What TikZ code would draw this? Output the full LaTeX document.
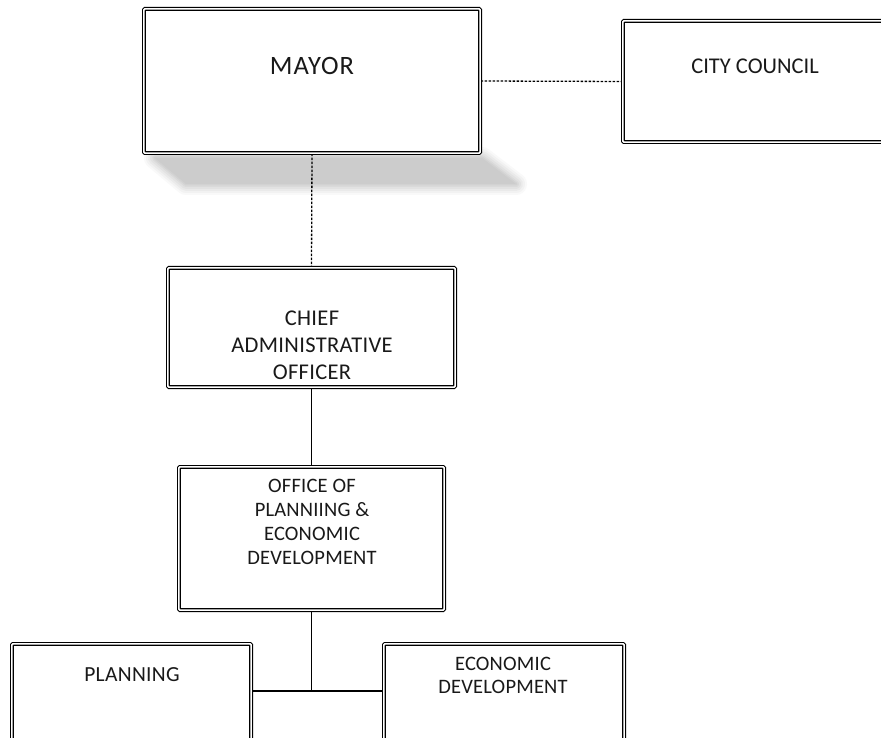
\documentclass[tikz,border=0pt]{standalone}
\usepackage{fontspec}
\setmainfont{Carlito}
\usetikzlibrary{backgrounds}
\begin{document}
\begin{tikzpicture}[x=1pt,y=-1pt,
  box/.style={draw=black, double=white, double distance=1.6pt, line width=1.1pt, fill=white, inner sep=0pt, rectangle, rounded corners=1pt},
  lbl/.style={inner sep=0pt, align=center, text=black!90},
  dotline/.style={line width=1.3pt, dash pattern=on 2.4pt off 1.6pt},
  solidline/.style={line width=1.3pt}]
\useasboundingbox (0,0) rectangle (881,738);
\clip (0,0) rectangle (881,738);

% boxes
\node[box, minimum width=336.2pt, minimum height=144.2pt] (mayor) at (312,81) {};
\node[box, minimum width=275.2pt, minimum height=121.2pt] (council) at (760.5,81.5) {};
\node[box, minimum width=287.2pt, minimum height=119.2pt] (chief) at (311.5,327.5) {};
\node[box, minimum width=265.2pt, minimum height=143.2pt] (office) at (311.5,538.5) {};
\node[box, minimum width=239.2pt, minimum height=124.2pt] (planning) at (131.5,706) {};
\node[box, minimum width=240.2pt, minimum height=124.2pt] (econ) at (504,706) {};

% texts
\node[lbl, font=\fontsize{26.5}{31}\selectfont\addfontfeatures{LetterSpace=4}] (tmayor) at (312,66) {MAYOR};
\node[lbl, font=\fontsize{22.5}{27}\selectfont] (tcouncil) at (755,66) {CITY COUNCIL};
\node[lbl, font=\fontsize{22.5}{27}\selectfont\addfontfeatures{LetterSpace=1.5}, anchor=north] (tchief) at (312,311) {CHIEF\\ADMINISTRATIVE\\OFFICER};
\node[lbl, font=\fontsize{20.5}{24}\selectfont\addfontfeatures{LetterSpace=1}, anchor=north] (toffice) at (312,479) {OFFICE OF\\PLANNIING \&\\ECONOMIC\\DEVELOPMENT};
\node[lbl, font=\fontsize{21.5}{26}\selectfont\addfontfeatures{LetterSpace=1.5}] (tplan) at (132,675) {PLANNING};
\node[lbl, font=\fontsize{20.5}{23}\selectfont\addfontfeatures{LetterSpace=1}, anchor=north] (tecon) at (503,657) {ECONOMIC\\DEVELOPMENT};

\begin{pgfonlayer}{background}
  \fill[white] (0,0) rectangle (881,738);
  % soft perspective shadow of the mayor box
  \foreach \w/\o in {22/0.05, 18/0.06, 14/0.07, 10/0.08, 6/0.09, 3/0.1} {
    \draw[line width=\w pt, color=black!45, opacity=\o, line join=round]
      (155,158) -- (482,158) -- (516,184) -- (186,184) -- cycle;
  }
  \fill[black!20] (155,158) -- (482,158) -- (516,184) -- (186,184) -- cycle;
  % connectors
  \draw[dotline] (mayor.east) -- (council.west);
  \draw[dotline] (mayor.south) -- (chief.north);
  \draw[solidline] (chief.south) -- (office.north);
  \coordinate (jn) at (office.south |- 0,691);
  \draw[solidline] (office.south) -- (jn);
  \draw[line width=1.8pt] (planning.east |- jn) -- (econ.west |- jn);
\end{pgfonlayer}
\end{tikzpicture}
\end{document}
